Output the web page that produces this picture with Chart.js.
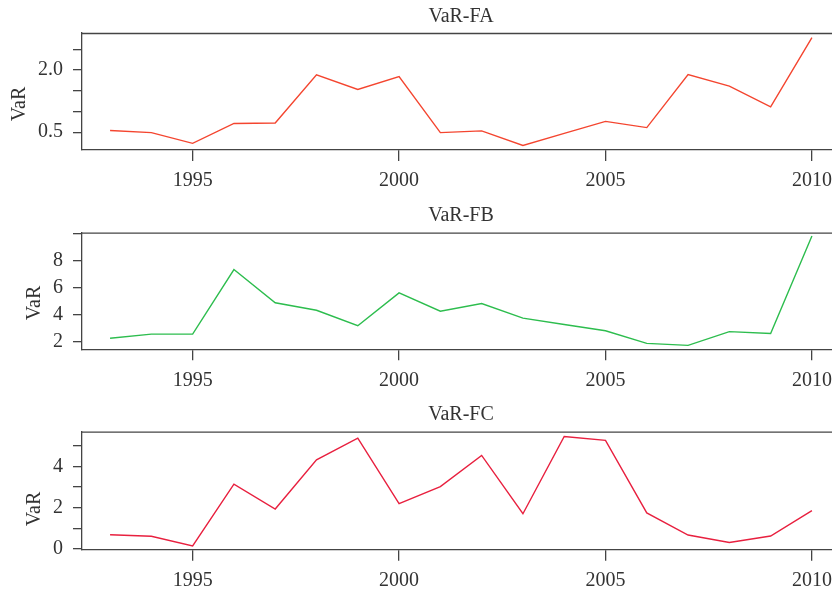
<!DOCTYPE html>
<html>
<head>
<meta charset="utf-8">
<script src="https://cdn.jsdelivr.net/npm/chart.js@4"></script>
<style>
  html, body { margin: 0; padding: 0; background: #fff; overflow: hidden; }
  .panel { position: absolute; left: 0; width: 832px; overflow: hidden; }
  canvas { display: block; }
</style>
</head>
<body>
<div class="panel" style="top:0px;height:200px"><canvas id="chart-fa" width="840" height="200"></canvas></div>
<div class="panel" style="top:200px;height:200px"><canvas id="chart-fb" width="840" height="200"></canvas></div>
<div class="panel" style="top:400px;height:192px"><canvas id="chart-fc" width="840" height="192"></canvas></div>
<script>
// data
const years = [1993, 1994, 1995, 1996, 1997, 1998, 1999, 2000, 2001, 2002, 2003, 2004, 2005, 2006, 2007, 2008, 2009, 2010];
const varFA = [0.54, 0.49, 0.23, 0.71, 0.72, 1.88, 1.53, 1.84, 0.49, 0.53, 0.18, 0.47, 0.76, 0.61, 1.89, 1.61, 1.11, 2.78];
const varFB = [2.26, 2.56, 2.56, 7.32, 4.87, 4.32, 3.18, 5.60, 4.25, 4.82, 3.74, 3.27, 2.81, 1.88, 1.73, 2.74, 2.61, 9.79];
const varFC = [0.69, 0.62, 0.15, 3.14, 1.94, 4.32, 5.37, 2.20, 3.02, 4.53, 1.71, 5.45, 5.26, 1.75, 0.68, 0.32, 0.63, 1.86];

const xTicks = [1995, 2000, 2005, 2010];
const yTicksFA = [0.5, 1.0, 1.5, 2.0, 2.5];
const yLabelsFA = ['0.5', '', '', '2.0', ''];
const yTicksFB = [2, 4, 6, 8, 10];
const yLabelsFB = ['2', '4', '6', '8', ''];
const yTicksFC = [0, 1, 2, 3, 4, 5];
const yLabelsFC = ['0', '', '2', '', '4', ''];

const FONT = '"Liberation Serif", "DejaVu Serif", serif';
const INK = '#333333';
const AXIS = '#444444';

// top border of the box + rotated y label
const framePlugin = {
  id: 'frame',
  afterDraw(chart, args, opts) {
    const { ctx, chartArea } = chart;
    ctx.save();
    ctx.strokeStyle = AXIS;
    ctx.lineWidth = 1.3;
    ctx.beginPath();
    ctx.moveTo(chartArea.left, chartArea.top + 0.5);
    ctx.lineTo(chartArea.right, chartArea.top + 0.5);
    ctx.stroke();

    ctx.translate(opts.labelX, opts.labelY);
    ctx.rotate(-Math.PI / 2);
    ctx.fillStyle = INK;
    ctx.font = '20px ' + FONT;
    ctx.textAlign = 'center';
    ctx.textBaseline = 'middle';
    ctx.fillText('VaR', 0, 0);
    ctx.restore();
  }
};

function makePanel(id, title, values, color, yMin, yMax, yTicks, yLabels, cfg) {
  const canvas = document.getElementById(id);
  return new Chart(canvas, {
    type: 'line',
    data: {
      datasets: [{
        label: title,
        data: years.map((y, i) => ({ x: y, y: values[i] })),
        borderColor: color,
        borderWidth: 1.4,
        pointRadius: 0,
        tension: 0,
        fill: false
      }]
    },
    options: {
      responsive: false,
      animation: false,
      devicePixelRatio: 1,
      layout: { padding: 0 },
      plugins: {
        legend: { display: false },
        tooltip: { enabled: false },
        title: {
          display: true,
          text: title,
          fullSize: false,
          color: INK,
          font: { family: FONT, size: 20, weight: 'normal' },
          lineHeight: 1.2,
          padding: { top: cfg.titleTop, bottom: cfg.titleBottom }
        },
        frame: { labelX: cfg.labelX, labelY: cfg.labelY }
      },
      scales: {
        x: {
          type: 'linear',
          min: 1992.32,
          max: 2010.68,
          afterBuildTicks: (s) => { s.ticks = xTicks.map((v) => ({ value: v })); },
          afterFit: (s) => { s.height = cfg.xHeight; },
          ticks: {
            autoSkip: false,
            maxRotation: 0,
            padding: 8,
            color: INK,
            font: { family: FONT, size: 20 },
            callback: (v) => String(v)
          },
          grid: { drawOnChartArea: false, drawTicks: true, tickLength: 11, color: AXIS, lineWidth: 1.3 },
          border: { display: true, color: AXIS, width: 1.3 }
        },
        y: {
          type: 'linear',
          min: yMin,
          max: yMax,
          afterBuildTicks: (s) => { s.ticks = yTicks.map((v) => ({ value: v })); },
          afterFit: (s) => { s.width = 82; },
          ticks: {
            autoSkip: false,
            padding: 10,
            color: INK,
            font: { family: FONT, size: 20 },
            callback: (v, i) => yLabels[i]
          },
          grid: { drawOnChartArea: false, drawTicks: true, tickLength: 9, color: AXIS, lineWidth: 1.3 },
          border: { display: true, color: AXIS, width: 1.3 }
        }
      }
    },
    plugins: [framePlugin]
  });
}

makePanel('chart-fa', 'VaR-FA', varFA, '#f4452f', 0.07, 2.89, yTicksFA, yLabelsFA,
  { titleTop: 5, titleBottom: 4, xHeight: 50, labelX: 19.5, labelY: 104 });
makePanel('chart-fb', 'VaR-FB', varFB, '#2dbd4e', 1.44, 10.04, yTicksFB, yLabelsFB,
  { titleTop: 4, titleBottom: 4.7, xHeight: 50.7, labelX: 35, labelY: 103 });
makePanel('chart-fc', 'VaR-FC', varFC, '#e8203f', -0.03, 5.68, yTicksFC, yLabelsFC,
  { titleTop: 3, titleBottom: 4.7, xHeight: 42.3, labelX: 35, labelY: 109 });
</script>
</body>
</html>
